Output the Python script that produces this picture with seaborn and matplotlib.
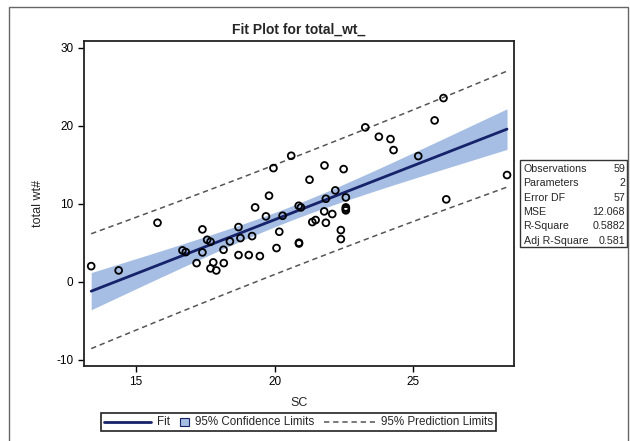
import numpy as np
import pandas as pd
import matplotlib
matplotlib.use('Agg')
import matplotlib.pyplot as plt
import seaborn as sns
from matplotlib.lines import Line2D
from matplotlib.patches import Rectangle
from matplotlib.offsetbox import DrawingArea, TextArea, HPacker, AnchoredOffsetbox

# observations
sc = [13.39, 14.38, 15.78, 16.68, 16.80, 17.19, 17.40, 17.40, 17.57, 17.69,
      17.69, 17.79, 17.90, 18.16, 18.17, 18.39, 18.70, 18.70, 18.77, 19.07,
      19.19, 19.30, 19.47, 19.69, 19.80, 19.96, 20.07, 20.17, 20.29, 20.60,
      20.87, 20.88, 20.88, 20.95, 21.26, 21.36, 21.48, 21.79, 21.80, 21.85,
      21.85, 22.08, 22.19, 22.39, 22.39, 22.49, 22.57, 22.57, 22.57, 22.57,
      23.27, 23.76, 24.18, 24.29, 25.18, 25.77, 26.09, 26.19, 28.38]
total_wt = [2.00, 1.45, 7.56, 4.02, 3.80, 2.39, 6.71, 3.76, 5.38, 5.13,
            1.71, 2.48, 1.45, 4.10, 2.39, 5.17, 7.01, 3.42, 5.60, 3.42,
            5.85, 9.53, 3.29, 8.38, 11.03, 14.57, 4.32, 6.41, 8.46, 16.15,
            9.74, 5.00, 4.90, 9.53, 13.08, 7.65, 7.91, 9.02, 14.91, 7.56,
            10.64, 8.68, 11.71, 6.62, 5.47, 14.44, 10.81, 9.53, 9.35, 9.15,
            19.79, 18.59, 18.29, 16.88, 16.11, 20.68, 23.55, 10.56, 13.68]

stat_names = ['Observations', 'Parameters', 'Error DF', 'MSE', 'R-Square', 'Adj R-Square']
stat_values = ['59', '2', '57', '12.068', '0.5882', '0.581']
legend_labels = ['Fit', '95% Confidence Limits', '95% Prediction Limits']
x_ticks = [15, 20, 25]
y_ticks = [-10, 0, 10, 20, 30]

navy = '#16226a'
band = '#a6bee3'

df = pd.DataFrame({'SC': sc, 'total_wt': total_wt})

# least squares fit with 95% confidence / prediction limits
n = len(df)
b1, b0 = np.polyfit(df['SC'], df['total_wt'], 1)
res = df['total_wt'] - (b0 + b1 * df['SC'])
mse = (res ** 2).sum() / (n - 2)
t = 2.0025  # t(0.975, 57)
xbar = df['SC'].mean()
sxx = ((df['SC'] - xbar) ** 2).sum()
xs = np.sort(df['SC'].unique())
fit = b0 + b1 * xs
se_m = np.sqrt(mse * (1 / n + (xs - xbar) ** 2 / sxx))
se_p = np.sqrt(mse * (1 + 1 / n + (xs - xbar) ** 2 / sxx))

sns.set_style('ticks')
plt.rcParams['font.family'] = ['Liberation Sans', 'DejaVu Sans']
plt.rcParams['axes.unicode_minus'] = False

fig = plt.figure(figsize=(6.3, 4.41), dpi=100)
ax = fig.add_axes([0.1333, 0.1701, 0.6825, 0.7376])

ax.fill_between(xs, fit - t * se_m, fit + t * se_m, color=band, lw=0)
sns.lineplot(x=xs, y=fit, color=navy, lw=2, estimator=None, ax=ax)
for sign in (-1, 1):
    sns.lineplot(x=xs, y=fit + sign * t * se_p, color='#555555', lw=1.1,
                 ls=(0, (3.5, 2.5)), estimator=None, ax=ax)
sns.scatterplot(data=df, x='SC', y='total_wt', marker='o', s=24,
                facecolor='none', edgecolor='black', linewidth=1.3, ax=ax, zorder=5)

ax.set_xlim(13.13, 28.63)
ax.set_ylim(-10.8, 30.9)
ax.set_xticks(x_ticks)
ax.set_yticks(y_ticks)
ax.tick_params(labelsize=8.5, length=4, width=1, colors='black')
for sp in ax.spines.values():
    sp.set_linewidth(1.3)
    sp.set_color('#222222')
ax.set_xlabel('SC', fontsize=9, labelpad=6)
ax.set_ylabel('total wt#', fontsize=9, labelpad=9)
ax.set_title('Fit Plot for total_wt_', fontsize=10, fontweight='bold', pad=5)

# statistics inset
fig.add_artist(Rectangle((520 / 630, 1 - 247 / 441), 107 / 630, 87 / 441,
                         transform=fig.transFigure, fill=False, ec='#333333', lw=1))
for i, (name, val) in enumerate(zip(stat_names, stat_values)):
    yy = 1 - (169 + i * 14.3) / 441
    fig.text(523.5 / 630, yy, name, fontsize=7.7, va='center', ha='left')
    fig.text(625 / 630, yy, val, fontsize=7.7, va='center', ha='right')

# legend below the plot
def pair(handle, label):
    return HPacker(children=[handle, TextArea(label, textprops=dict(fontsize=8.4))],
                   align='center', pad=0, sep=4)

h_fit = DrawingArea(34, 8)
h_fit.add_artist(Line2D([0, 34], [4, 4], color=navy, lw=2))
h_clm = DrawingArea(7, 8)
h_clm.add_artist(Rectangle((0.5, 0.8), 6, 6, fc=band, ec=navy, lw=0.8))
h_pi = DrawingArea(37, 8)
h_pi.add_artist(Line2D([0, 37], [4, 4], color='#555555', lw=1.1, ls=(0, (3.5, 2.5))))
packer = HPacker(children=[pair(h_fit, legend_labels[0]), pair(h_clm, legend_labels[1]),
                           pair(h_pi, legend_labels[2])],
                 align='center', pad=0, sep=7)
leg = AnchoredOffsetbox(loc='center', child=packer, pad=0.25, borderpad=0,
                        bbox_to_anchor=(298.5 / 630, 1 - 422 / 441),
                        bbox_transform=fig.transFigure, frameon=True)
leg.patch.set_boxstyle('square', pad=0)
leg.patch.set_edgecolor('#222222')
leg.patch.set_linewidth(1.2)
fig.add_artist(leg)

# outer frame of the image
fig.add_artist(Rectangle((9 / 630, -0.02), 619 / 630, 1 - 7 / 441 + 0.02,
                         transform=fig.transFigure, fill=False, ec='#666666', lw=1))

fig.savefig('out.png', dpi=100)
